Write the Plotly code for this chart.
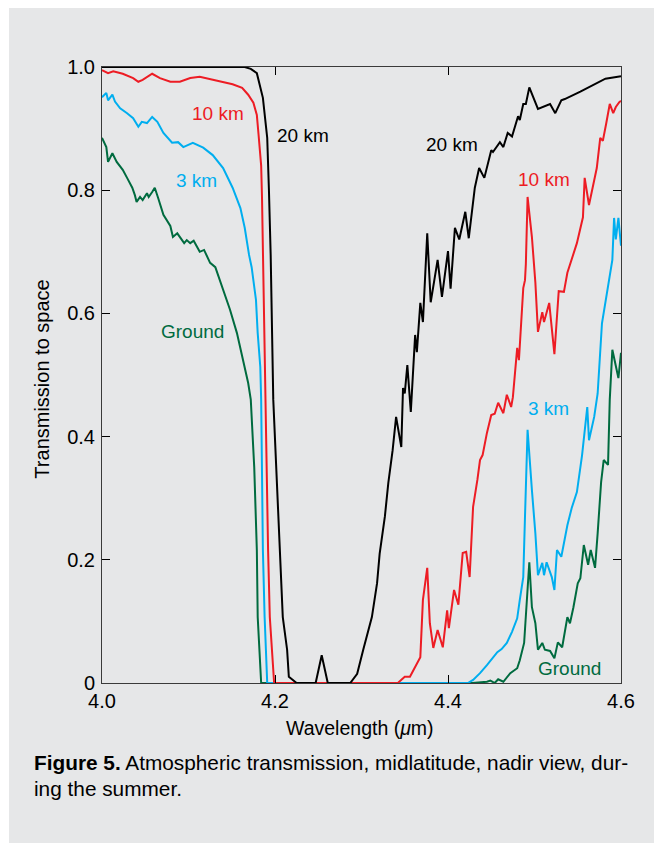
import plotly.graph_objects as go

# ---- data ----
wl_20 = [4.0, 4.165, 4.172, 4.179, 4.186, 4.191, 4.193, 4.195, 4.198, 4.206, 4.209, 4.214, 4.216, 4.225,
         4.247, 4.254, 4.261, 4.287, 4.295, 4.302, 4.312, 4.318, 4.321, 4.327, 4.331, 4.336, 4.340, 4.346,
         4.348, 4.350, 4.353, 4.357, 4.362, 4.364, 4.368, 4.371, 4.376, 4.380, 4.388, 4.393, 4.400, 4.403,
         4.408, 4.413, 4.420, 4.424, 4.431, 4.436, 4.442, 4.450, 4.452, 4.460, 4.464, 4.469, 4.474, 4.481,
         4.483, 4.487, 4.490, 4.494, 4.504, 4.518, 4.524, 4.531, 4.535, 4.553, 4.582, 4.600]
tr_20 = [1.0, 1.0, 0.997, 0.99, 0.95, 0.885, 0.80, 0.695, 0.46, 0.216, 0.107, 0.054, 0.01, 0.0,
         0.0, 0.045, 0.0, 0.0, 0.015, 0.054, 0.107, 0.162, 0.21, 0.27, 0.325, 0.378, 0.432, 0.383,
         0.479, 0.47, 0.516, 0.44, 0.565, 0.537, 0.617, 0.586, 0.73, 0.618, 0.687, 0.627, 0.701, 0.64,
         0.739, 0.72, 0.765, 0.722, 0.804, 0.836, 0.82, 0.865, 0.862, 0.878, 0.87, 0.893, 0.887, 0.92,
         0.914, 0.94, 0.94, 0.967, 0.932, 0.94, 0.925, 0.946, 0.948, 0.96, 0.981, 0.985]

wl_10 = [4.0, 4.007, 4.013, 4.024, 4.036, 4.042, 4.047, 4.058, 4.067, 4.079, 4.090, 4.102, 4.113, 4.125,
         4.140, 4.151, 4.162, 4.169, 4.175, 4.179, 4.181, 4.184, 4.185, 4.186, 4.187, 4.189, 4.192, 4.194,
         4.199, 4.342, 4.350, 4.356, 4.362, 4.368, 4.371, 4.376, 4.379, 4.383, 4.388, 4.394, 4.399, 4.401,
         4.407, 4.412, 4.417, 4.421, 4.425, 4.429, 4.434, 4.437, 4.440, 4.445, 4.450, 4.454, 4.458, 4.464,
         4.468, 4.473, 4.475, 4.480, 4.482, 4.487, 4.489, 4.490, 4.492, 4.497, 4.501, 4.504, 4.509, 4.511,
         4.517, 4.523, 4.528, 4.534, 4.538, 4.549, 4.556, 4.558, 4.563, 4.572, 4.576, 4.579, 4.583, 4.587,
         4.591, 4.594, 4.598, 4.600]
tr_10 = [0.995, 0.99, 0.993, 0.989, 0.982, 0.976, 0.979, 0.989, 0.982, 0.976, 0.976, 0.982, 0.984, 0.98,
         0.976, 0.972, 0.966, 0.955, 0.942, 0.922, 0.89, 0.84, 0.787, 0.695, 0.6, 0.46, 0.216, 0.107,
         0.0, 0.0, 0.01, 0.01, 0.026, 0.042, 0.135, 0.187, 0.097, 0.057, 0.086, 0.058, 0.118, 0.089,
         0.151, 0.127, 0.211, 0.213, 0.172, 0.286, 0.33, 0.362, 0.37, 0.406, 0.435, 0.437, 0.455, 0.438,
         0.468, 0.448, 0.464, 0.544, 0.524, 0.641, 0.654, 0.68, 0.789, 0.724, 0.65, 0.57, 0.602, 0.586,
         0.617, 0.534, 0.636, 0.635, 0.666, 0.714, 0.756, 0.82, 0.776, 0.836, 0.885, 0.88, 0.909, 0.94,
         0.925, 0.935, 0.943, 0.945]

wl_3 = [4.0, 4.005, 4.007, 4.012, 4.015, 4.021, 4.029, 4.036, 4.042, 4.046, 4.052, 4.058, 4.064, 4.071,
        4.081, 4.088, 4.094, 4.105, 4.117, 4.128, 4.140, 4.151, 4.160, 4.165, 4.170, 4.173, 4.178, 4.180,
        4.183, 4.184, 4.186, 4.188, 4.191, 4.423, 4.429, 4.437, 4.445, 4.457, 4.462, 4.468, 4.474, 4.480,
        4.483, 4.487, 4.489, 4.491, 4.492, 4.497, 4.501, 4.504, 4.509, 4.511, 4.514, 4.520, 4.523, 4.526,
        4.531, 4.538, 4.543, 4.549, 4.555, 4.561, 4.563, 4.569, 4.573, 4.578, 4.584, 4.590, 4.592, 4.594,
        4.597, 4.600]
tr_3 = [0.951, 0.958, 0.946, 0.955, 0.944, 0.933, 0.925, 0.917, 0.903, 0.911, 0.909, 0.919, 0.911, 0.893,
        0.877, 0.878, 0.87, 0.877, 0.869, 0.857, 0.836, 0.804, 0.771, 0.739, 0.695, 0.675, 0.622, 0.568,
        0.513, 0.46, 0.216, 0.107, 0.0, 0.0, 0.005, 0.016, 0.029, 0.05, 0.055, 0.065, 0.083, 0.105,
        0.135, 0.172, 0.27, 0.351, 0.411, 0.313, 0.243, 0.175, 0.195, 0.175, 0.196, 0.172, 0.151, 0.216,
        0.205, 0.256, 0.284, 0.31, 0.37, 0.448, 0.394, 0.432, 0.47, 0.584, 0.633, 0.687, 0.755, 0.72,
        0.755, 0.71]

wl_gr = [4.0, 4.005, 4.007, 4.012, 4.017, 4.024, 4.029, 4.035, 4.038, 4.040, 4.044, 4.047, 4.052, 4.054,
         4.058, 4.061, 4.065, 4.071, 4.079, 4.082, 4.087, 4.095, 4.098, 4.102, 4.106, 4.113, 4.118, 4.125,
         4.131, 4.140, 4.148, 4.156, 4.163, 4.169, 4.172, 4.176, 4.179, 4.180, 4.184, 4.428, 4.445, 4.449,
         4.454, 4.458, 4.464, 4.472, 4.480, 4.483, 4.488, 4.491, 4.494, 4.497, 4.501, 4.504, 4.509, 4.512,
         4.518, 4.523, 4.527, 4.532, 4.538, 4.541, 4.545, 4.550, 4.553, 4.557, 4.562, 4.565, 4.570, 4.573,
         4.577, 4.580, 4.585, 4.587, 4.590, 4.597, 4.600]
tr_gr = [0.885, 0.87, 0.846, 0.86, 0.846, 0.833, 0.82, 0.804, 0.792, 0.781, 0.789, 0.784, 0.795, 0.789,
         0.797, 0.804, 0.787, 0.76, 0.742, 0.724, 0.73, 0.714, 0.719, 0.714, 0.718, 0.7, 0.703, 0.682,
         0.675, 0.638, 0.606, 0.568, 0.524, 0.487, 0.46, 0.35, 0.216, 0.107, 0.0, 0.0, 0.002, 0.004,
         0.0, 0.006, 0.002, 0.016, 0.024, 0.037, 0.065, 0.135, 0.196, 0.123, 0.097, 0.054, 0.065, 0.054,
         0.052, 0.04, 0.066, 0.058, 0.107, 0.097, 0.123, 0.162, 0.17, 0.224, 0.192, 0.216, 0.187, 0.243,
         0.326, 0.362, 0.354, 0.46, 0.541, 0.495, 0.536]

x_ticks = [4.0, 4.2, 4.4, 4.6]
x_ticktext = ["4.0", "4.2", "4.4", "4.6"]
y_ticks = [0, 0.2, 0.4, 0.6, 0.8, 1.0]
y_ticktext = ["0", "0.2", "0.4", "0.6", "0.8", "1.0"]

RED = "#ed1c24"
BLUE = "#00aeef"
GREEN = "#006b3f"
BLACK = "#000000"
BG = "#e6e7e8"
FONT = "Liberation Sans, Arial, Helvetica, sans-serif"
FS = 19

fig = go.Figure()
for wl, tr, col, name in [(wl_gr, tr_gr, GREEN, "Ground"), (wl_3, tr_3, BLUE, "3 km"),
                          (wl_10, tr_10, RED, "10 km"), (wl_20, tr_20, BLACK, "20 km")]:
    fig.add_trace(go.Scatter(x=wl, y=tr, mode="lines", name=name,
                             line=dict(color=col, width=2), showlegend=False,
                             hoverinfo="skip"))

labels = [
    (4.134, 0.925, "10 km", RED),
    (4.232, 0.888, "20 km", BLACK),
    (4.109, 0.815, "3 km", BLUE),
    (4.105, 0.570, "Ground", GREEN),
    (4.405, 0.875, "20 km", BLACK),
    (4.511, 0.818, "10 km", RED),
    (4.516, 0.446, "3 km", BLUE),
    (4.541, 0.024, "Ground", GREEN),
]
for x, y, t, c in labels:
    fig.add_annotation(x=x, y=y, xref="x", yref="y", text=t, showarrow=False,
                       font=dict(family=FONT, size=FS, color=c), xanchor="center", yanchor="middle")

axis_common = dict(showline=True, linecolor="#3a3a3a", linewidth=1, mirror="ticks",
                   ticks="inside", ticklen=8, tickwidth=1, tickcolor="#000",
                   showgrid=False, zeroline=False,
                   tickfont=dict(family=FONT, size=20, color="#000"))

fig.update_xaxes(range=[4.0, 4.6], tickvals=x_ticks, ticktext=x_ticktext, **axis_common)
fig.update_yaxes(range=[0, 1.0], tickvals=y_ticks, ticktext=y_ticktext, ticklabelstandoff=2,
                 **axis_common)

# axis titles
fig.add_annotation(x=0.497, y=-0.073, xref="paper", yref="paper", showarrow=False,
                   text="Wavelength (<i>μ</i>m)", font=dict(family=FONT, size=19.5, color="#000"),
                   xanchor="center", yanchor="middle")
fig.add_annotation(x=-0.115, y=0.493, xref="paper", yref="paper", showarrow=False, textangle=-90,
                   text="Transmission to space", font=dict(family=FONT, size=20, color="#000"),
                   xanchor="center", yanchor="middle")

# caption
fig.add_annotation(x=-0.1345, y=-0.129, xref="paper", yref="paper", showarrow=False,
                   text="<b>Figure 5.</b> Atmospheric transmission, midlatitude, nadir view, dur-",
                   font=dict(family=FONT, size=20.8, color="#000"), xanchor="left", yanchor="middle")
fig.add_annotation(x=-0.1345, y=-0.172, xref="paper", yref="paper", showarrow=False,
                   text="ing the summer.",
                   font=dict(family=FONT, size=20.8, color="#000"), xanchor="left", yanchor="middle")

# grey panel
fig.add_shape(type="rect", xref="paper", yref="paper", x0=-0.1792, x1=1.2, y0=-0.2597, y1=1.2,
              fillcolor=BG, line=dict(width=0), layer="below")

# page body has an 8px margin: figure spans page x 8..662, y 8..850
fig.update_layout(
    width=654, height=842,
    margin=dict(l=94, r=41, t=59, b=167, pad=0),
    paper_bgcolor="#ffffff", plot_bgcolor=BG,
    font=dict(family=FONT, size=FS, color="#000"),
)

fig.write_html("out.html")
